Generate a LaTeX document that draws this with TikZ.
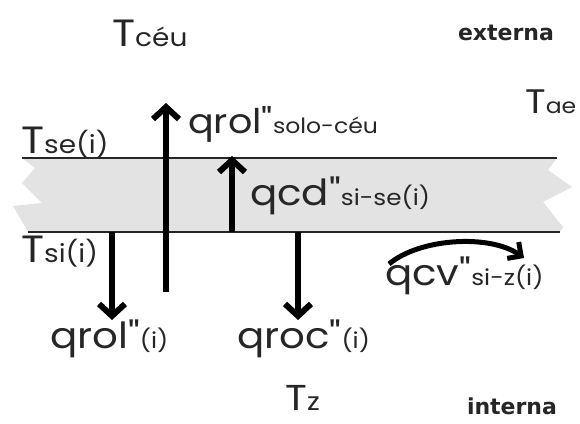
\documentclass[tikz,border=0pt]{standalone}
\usepackage{fontspec}
\usetikzlibrary{arrows.meta}
\newfontfamily\geo[Ligatures=TeXOff,FakeStretch=1.12]{Poppins}
\newfontfamily\bsans{DejaVu Sans}
\newcommand{\mainsz}{\fontsize{36}{36}\selectfont}
\newcommand{\subsz}{\fontsize{22}{22}\selectfont}
\newcommand{\tsz}{\fontsize{38}{38}\selectfont}
\newcommand{\tsubsz}{\fontsize{25}{25}\selectfont}
\begin{document}
\begin{tikzpicture}[x=1pt,y=-1pt,
  lbl/.style={inner sep=0pt, anchor=base west, font=\geo, text=black!85},
  zone/.style={inner sep=0pt, anchor=base, font=\bsans\bfseries\fontsize{22}{22}\selectfont, text=black!85},
  flux/.style={line width=6pt, -{Straight Barb[length=12pt,width=26pt,line width=6pt]}},
  edge/.style={line width=1.5pt, black!85},
  band/.style={fill=black!11}]
\useasboundingbox (0,0) rectangle (580,423);
% wall band
\fill[band] (22,158) -- (557,158) -- (548,170) -- (572,187) -- (543,202) -- (563,227) -- (560,232)
  -- (28,232) -- (13,206) -- (42,203) -- (22,183) -- (35,168) -- cycle;
\coordinate (tl) at (22,158); \coordinate (tr) at (557,158);
\coordinate (bl) at (28,232); \coordinate (br) at (560,232);
\draw[edge] (tl) -- (tr);
\draw[edge] (bl) -- (br);
% labels
\node[lbl] (tceu) at (112,46) {\tsz T\tsubsz céu};
\node[zone] (ext) at (506,40) {externa};
\node[lbl] (tae) at (525,113) {\fontsize{34}{34}\selectfont T\fontsize{21}{21}\selectfont ae};
\node[lbl] (tse) at (21,153) {\tsz T\tsubsz se(i)};
\node[lbl] (tsi) at (21,262) {\tsz T\tsubsz si(i)};
\node[lbl] (qrolsc) at (188,133) {\fontsize{34}{34}\selectfont qrol"\fontsize{21}{21}\selectfont solo-céu};
\node[lbl] (qcd) at (250,205) {\mainsz qcd"\subsz si-se(i)};
\node[lbl] (qcv) at (385,285) {\mainsz qcv"\subsz si-z(i)};
\node[lbl] (qroli) at (50,348) {\mainsz qrol"\subsz (i)};
\node[lbl] (qroc) at (237,348) {\mainsz qroc"\subsz (i)};
\node[lbl] (tz) at (285,410) {\fontsize{36}{36}\selectfont T\tsubsz z};
\node[zone] (int) at (512,414) {interna};
% flux arrows
\coordinate (a1s) at (166,292); \coordinate (a1e) at (166,103);
\coordinate (a2s) at (232,232); \coordinate (a2e) at (232,156);
\coordinate (a3s) at (112,232); \coordinate (a3e) at (112,320);
\coordinate (a4s) at (298,232); \coordinate (a4e) at (298,320);
\draw[flux] (a1s) -- (a1e);
\draw[flux] (a2s) -- (a2e);
\draw[flux] (a3s) -- (a3e);
\draw[flux] (a4s) -- (a4e);
\coordinate (cvs) at (389,264); \coordinate (cve) at (524,258);
\draw[line width=5pt, -{Straight Barb[length=10pt,width=20pt,line width=5pt]}]
  (cvs) .. controls (420,238) and (490,234) .. (cve);
\end{tikzpicture}
\end{document}
